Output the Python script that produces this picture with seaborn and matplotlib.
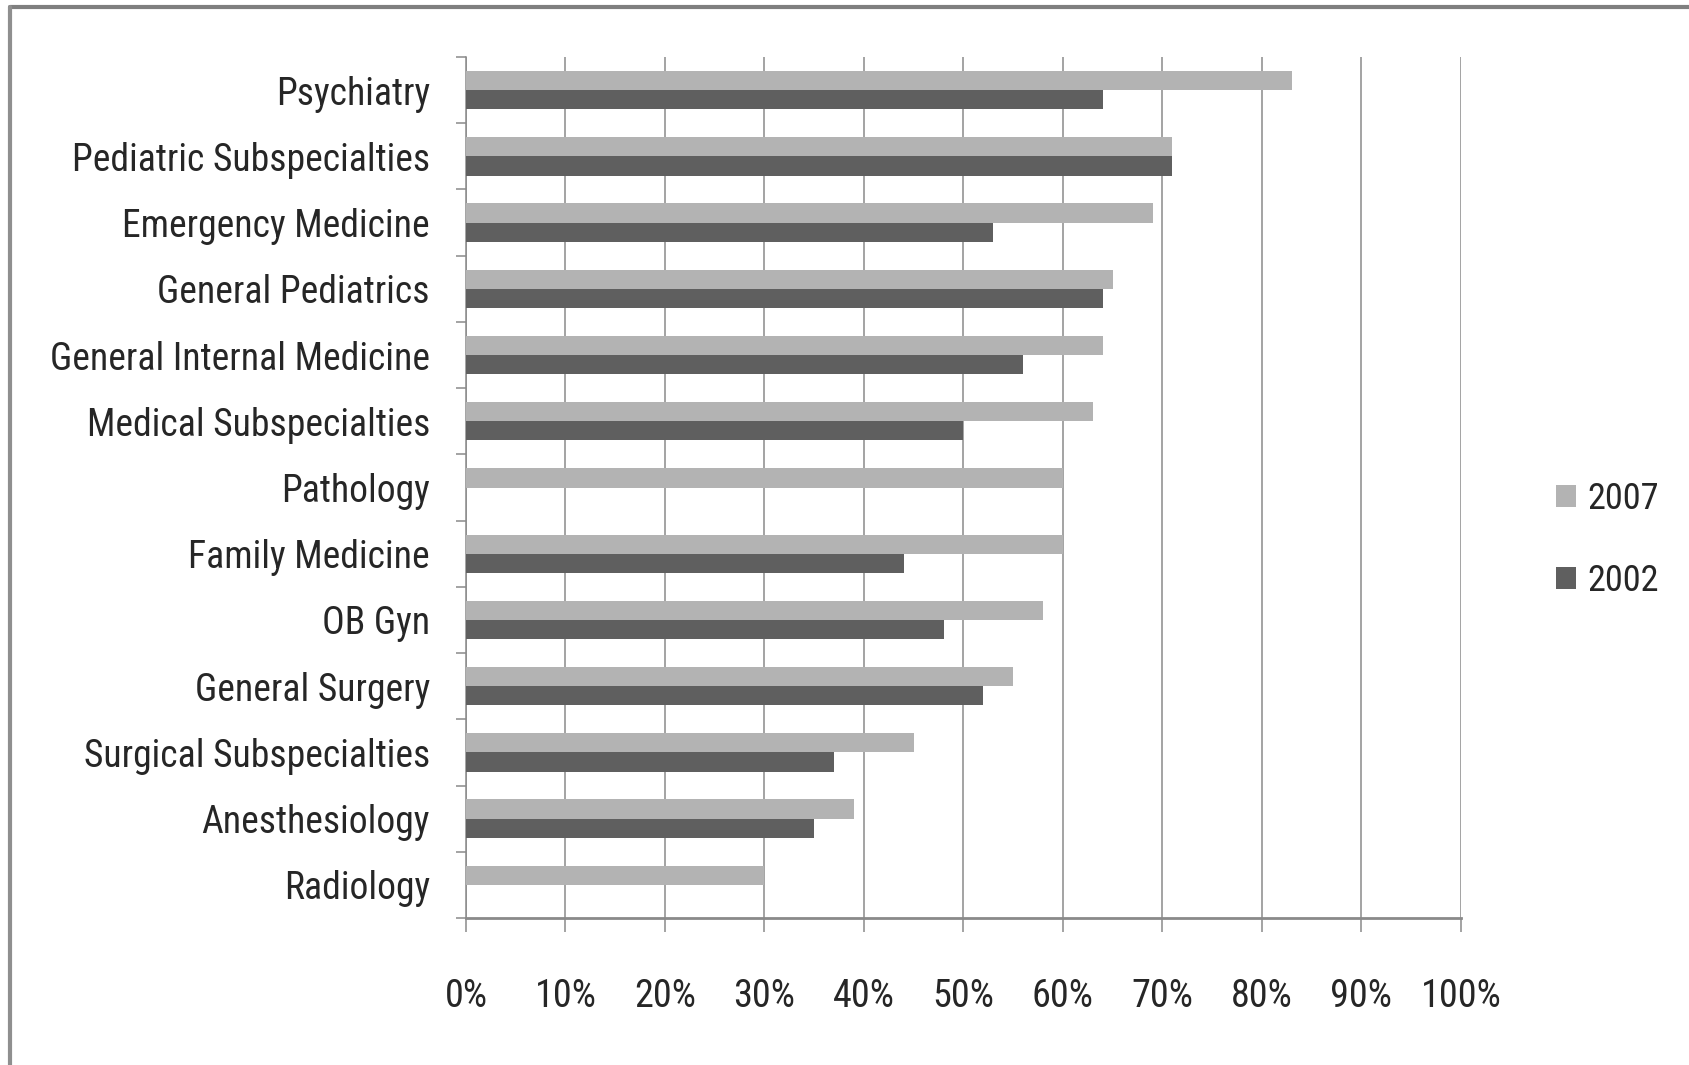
import numpy as np
import pandas as pd
import matplotlib
matplotlib.use("Agg")
import matplotlib.pyplot as plt
from matplotlib import font_manager as fm
from matplotlib.lines import Line2D
from matplotlib.patches import Patch
from matplotlib.ticker import FixedLocator, FuncFormatter
import seaborn as sns

specialties = ["Psychiatry", "Pediatric Subspecialties", "Emergency Medicine",
               "General Pediatrics", "General Internal Medicine", "Medical Subspecialties",
               "Pathology", "Family Medicine", "OB Gyn", "General Surgery",
               "Surgical Subspecialties", "Anesthesiology", "Radiology"]
values_2007 = [83, 71, 69, 65, 64, 63, 60, 60, 58, 55, 45, 39, 30]
values_2002 = [64, 71, 53, 64, 56, 50, np.nan, 44, 48, 52, 37, 35, np.nan]
years = ["2007", "2002"]
colors = ["#b3b3b3", "#5f5f5f"]
x_ticks = [0, 10, 20, 30, 40, 50, 60, 70, 80, 90, 100]

df = pd.DataFrame({
    "Specialty": specialties * 2,
    "Year": ["2007"] * len(specialties) + ["2002"] * len(specialties),
    "Value": values_2007 + values_2002,
})

sns.set_theme(style="white")
plt.rcParams["font.family"] = ["Roboto", "DejaVu Sans"]


# ---- pick a narrow (Calibri-like) font if one is installed ----
def _is_cond(f):
    n = f.name.lower()
    st = f.stretch
    if isinstance(st, str):
        cond = st in ("condensed", "semi-condensed", "extra-condensed", "ultra-condensed")
    else:
        cond = st < 500
    return cond or "narrow" in n or "condensed" in n


def _rank(f):
    n = f.name.lower()
    pref = ["liberation sans narrow", "roboto condensed", "noto sans", "open sans",
            "dejavu sans", "lato", "inter"]
    for i, p in enumerate(pref):
        if n.startswith(p):
            base = i
            break
    else:
        base = len(pref)
    st = f.stretch
    semi = 1 if (isinstance(st, str) and ("semi" in st or "extra" in st or "ultra" in st)) else 0
    return (semi, base)


cands = [f for f in fm.fontManager.ttflist
         if _is_cond(f) and f.style == "normal"
         and (f.weight in (400, "normal", "regular", "book"))]
if cands:
    cands.sort(key=_rank)
    font_file = cands[0].fname
    fp_base = fm.FontProperties(fname=font_file)
else:
    fp_base = fm.FontProperties(family=["Roboto", "DejaVu Sans"])

W, H = 1690, 1065
fig = plt.figure(figsize=(W / 100, H / 100), dpi=100)
renderer = fig.canvas.get_renderer()


def fit_size(text, target_px):
    fp = fp_base.copy()
    fp.set_size(20)
    t = fig.text(0, 0, text, fontproperties=fp)
    w = t.get_window_extent(renderer=renderer).width
    t.remove()
    return 20 * target_px / w


size_y = fit_size("General Internal Medicine", 378)
size_x = fit_size("100%", 81)
size_leg = fit_size("2007", 72)

ax = fig.add_axes([466 / W, 1 - 918 / H, (1461 - 466) / W, (918 - 57) / H])

sns.barplot(data=df, y="Specialty", x="Value", hue="Year", hue_order=years,
            order=specialties, palette=colors, width=0.58, linewidth=0,
            saturation=1, ax=ax, legend=False, zorder=3)

ax.set_xlim(0, 100)
ax.set_ylim(len(specialties) - 0.5, -0.5)
ax.xaxis.set_major_locator(FixedLocator(x_ticks))
ax.xaxis.set_major_formatter(FuncFormatter(lambda v, p: f"{int(v)}%"))
ax.grid(axis="x", color="#8a8a8a", linewidth=1.1, zorder=0)
ax.grid(axis="y", visible=False)
ax.set_axisbelow(True)
ax.set_xlabel("")
ax.set_ylabel("")

for s in ["top", "right"]:
    ax.spines[s].set_visible(False)
ax.spines["left"].set_color("#8a8a8a")
ax.spines["left"].set_linewidth(1.1)
ax.spines["bottom"].set_color("#8a8a8a")
ax.spines["bottom"].set_linewidth(2.0)

ax.tick_params(axis="x", which="major", bottom=True, length=10, width=1.1,
               color="#8a8a8a", pad=33, labelcolor="#262626")
ax.tick_params(axis="y", which="major", left=False, length=0, pad=26,
               labelcolor="#262626")
ax.yaxis.set_minor_locator(FixedLocator(np.arange(-0.5, len(specialties), 1.0)))
ax.tick_params(axis="y", which="minor", left=True, length=7, width=1.1, color="#8a8a8a")

fpy = fp_base.copy(); fpy.set_size(size_y)
fpx = fp_base.copy(); fpx.set_size(size_x)
fpl = fp_base.copy(); fpl.set_size(size_leg)
for lab in ax.get_yticklabels():
    lab.set_fontproperties(fpy)
for lab in ax.get_xticklabels():
    lab.set_fontproperties(fpx)

handles = [Patch(facecolor=c, edgecolor="none") for c in colors]
leg = fig.legend(handles, years, loc="center left", bbox_to_anchor=(1556 / W, 1 - 540 / H),
                 frameon=False, prop=fpl, handlelength=0.55, handleheight=0.55,
                 handletextpad=0.3, labelspacing=1.25, borderpad=0, borderaxespad=0,
                 labelcolor="#262626")

# chart border (top and left visible)
fig.add_artist(Line2D([10 / W, 1.0], [1 - 7 / H, 1 - 7 / H], transform=fig.transFigure,
                      color="#7f7f7f", linewidth=3.0))
fig.add_artist(Line2D([10 / W, 10 / W], [0, 1 - 7 / H], transform=fig.transFigure,
                      color="#8f8f8f", linewidth=3.0))

fig.savefig("out.png", dpi=100, facecolor="white")
